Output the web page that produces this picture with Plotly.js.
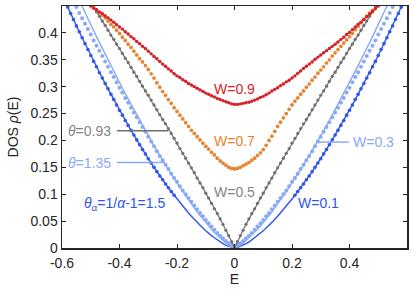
<!DOCTYPE html>
<html>
<head>
<meta charset="utf-8">
<script src="https://cdn.plot.ly/plotly-3.0.1.min.js"></script>
<style>html,body{margin:0;padding:0;background:#fff;}#chart{width:415px;height:293px;}</style>
</head>
<body>
<div id="chart"></div>
<script>
// Energy grid (shared x values)
const E = [-0.60,-0.59,-0.58,-0.57,-0.56,-0.55,-0.54,-0.53,-0.52,-0.51,
-0.50,-0.49,-0.48,-0.47,-0.46,-0.45,-0.44,-0.43,-0.42,-0.41,
-0.40,-0.39,-0.38,-0.37,-0.36,-0.35,-0.34,-0.33,-0.32,-0.31,
-0.30,-0.29,-0.28,-0.27,-0.26,-0.25,-0.24,-0.23,-0.22,-0.21,
-0.20,-0.19,-0.18,-0.17,-0.16,-0.15,-0.14,-0.13,-0.12,-0.11,
-0.10,-0.09,-0.08,-0.07,-0.06,-0.05,-0.04,-0.03,-0.02,-0.01,
0.00,
0.01,0.02,0.03,0.04,0.05,0.06,0.07,0.08,0.09,0.10,
0.11,0.12,0.13,0.14,0.15,0.16,0.17,0.18,0.19,0.20,
0.21,0.22,0.23,0.24,0.25,0.26,0.27,0.28,0.29,0.30,
0.31,0.32,0.33,0.34,0.35,0.36,0.37,0.38,0.39,0.40,
0.41,0.42,0.43,0.44,0.45,0.46,0.47,0.48,0.49,0.50,
0.51,0.52,0.53,0.54,0.55,0.56,0.57,0.58,0.59,0.60];

const N = null;

// W=0.9 (red dots)
const dosW09 = [N,N,N,N,N,N,N,N,N,N,
.450,.446,.443,.439,.436,.432,.428,.424,.420,.415,
.411,.407,.402,.398,.393,.389,.384,.380,.375,.371,
.366,.361,.356,.352,.347,.342,.338,.333,.329,.324,
.320,.317,.313,.310,.306,.303,.300,.297,.294,.291,
.288,.286,.283,.281,.278,.276,.274,.272,.270,.268,
.267,
.267,.268,.269,.270,.271,.273,.275,.277,.280,.282,
.285,.288,.292,.295,.298,.302,.305,.309,.312,.316,
.320,.325,.329,.334,.338,.342,.346,.351,.355,.359,
.363,.367,.371,.375,.379,.383,.388,.392,.397,.401,
.406,.411,.416,.420,.425,.430,.435,.440,.445,.450,
N,N,N,N,N,N,N,N,N,N];

// W=0.7 (orange dots)
const dosW07 = [N,N,N,N,N,N,N,N,N,N,
N,.448,.443,.438,.433,.428,.422,.416,.411,.405,
.399,.392,.386,.379,.373,.366,.359,.352,.346,.339,
.332,.324,.316,.307,.299,.291,.284,.276,.269,.261,
.254,.247,.240,.233,.226,.219,.213,.207,.201,.195,
.189,.184,.178,.173,.167,.162,.158,.154,.150,.148,
.147,
.148,.150,.153,.156,.159,.163,.167,.172,.177,.183,
.191,.200,.208,.217,.226,.234,.242,.250,.258,.266,
.273,.279,.286,.292,.299,.305,.312,.318,.325,.331,
.337,.344,.350,.357,.363,.369,.375,.381,.387,.393,
.399,.406,.412,.419,.425,.431,.437,.442,N,N,
N,N,N,N,N,N,N,N,N,N];

// W=0.5 (gray, theta=0.93)
const dosW05 = [N,N,N,N,N,N,N,N,N,N,
.456,.448,.439,.431,.422,.414,.405,.396,.388,.379,
.371,.362,.353,.345,.336,.327,.319,.310,.301,.292,
.284,.275,.266,.257,.248,.239,.231,.222,.213,.204,
.195,.185,.176,.167,.158,.149,.140,.130,.121,.112,
.102,.093,.083,.073,.064,.054,.044,.033,.023,.012,
0,
.012,.023,.033,.044,.054,.064,.073,.083,.093,.102,
.112,.121,.130,.140,.149,.158,.167,.176,.185,.195,
.204,.213,.222,.231,.239,.248,.257,.266,.275,.284,
.292,.301,.310,.319,.327,.336,.345,.353,.362,.371,
.379,.388,.396,.405,.414,.422,.431,.439,.448,.456,
N,N,N,N,N,N,N,N,N,N];

// W=0.3 theory line (theta=1.35)
const fitW03 = [N,N,N,N,
.484,.473,.461,.449,.438,.427,
.415,.404,.393,.382,.371,.360,.350,.339,.328,.318,
.307,.297,.287,.277,.267,.257,.247,.237,.228,.218,
.209,.199,.190,.181,.172,.163,.154,.146,.137,.129,
.121,.113,.105,.097,.089,.082,.075,.067,.061,.054,
.047,.041,.035,.029,.024,.019,.014,.009,.005,.002,
0,
.002,.005,.009,.014,.019,.024,.029,.035,.041,.047,
.054,.061,.067,.075,.082,.089,.097,.105,.113,.121,
.129,.137,.146,.154,.163,.172,.181,.190,.199,.209,
.218,.228,.237,.247,.257,.267,.277,.287,.297,.307,
.318,.328,.339,.350,.360,.371,.382,.393,.404,.415,
.427,.438,.449,.461,.473,.484,
N,N,N,N];

// W=0.3 numerical dots
const dosW03 = [N,N,N,N,
.458,.448,.437,.427,.417,.407,
.397,.386,.376,.367,.357,.347,.337,.327,.318,.308,
.298,.289,.279,.270,.261,.252,.243,.234,.225,.216,
.207,.198,.189,.180,.171,.163,.155,.147,.138,.130,
.123,.115,.107,.100,.093,.086,.079,.072,.065,.059,
.052,.046,.040,.034,.028,.023,.018,.013,.009,.006,
.003,
.006,.009,.013,.018,.023,.028,.034,.040,.046,.052,
.059,.065,.072,.079,.086,.093,.100,.107,.115,.123,
.130,.138,.147,.155,.163,.171,.180,.189,.198,.207,
.216,.225,.234,.243,.252,.261,.270,.279,.289,.298,
.308,.318,.327,.337,.347,.357,.367,.376,.386,.397,
.407,.417,.427,.437,.448,.458,
N,N,N,N];

// W=0.1 theory line (theta_alpha=1.5)
const fitW01 = [.471,.459,.448,.436,.425,.413,.402,.391,.380,.369,
.358,.347,.337,.326,.316,.306,.296,.286,.276,.266,
.256,.247,.237,.228,.219,.210,.201,.192,.183,.175,
.166,.158,.150,.142,.134,.127,.119,.112,.105,.098,
.091,.084,.077,.071,.065,.059,.053,.048,.042,.037,
.032,.027,.023,.019,.015,.011,.008,.005,.003,.001,
0,
.001,.003,.005,.008,.011,.015,.019,.023,.027,.032,
.037,.042,.048,.053,.059,.065,.071,.077,.084,.091,
.098,.105,.112,.119,.127,.134,.142,.150,.158,.166,
.175,.183,.192,.201,.210,.219,.228,.237,.247,.256,
.266,.276,.286,.296,.306,.316,.326,.337,.347,.358,
.369,.380,.391,.402,.413,.425,.436,.448,.459,.471];

// W=0.1 numerical dots (visible for |E| >= 0.21)
const dosW01 = [.471,.459,.448,.436,.425,.413,.402,.391,.380,.369,
.358,.347,.337,.326,.316,.306,.296,.286,.276,.266,
.256,.247,.237,.228,.219,.210,.201,.192,.183,.175,
.166,.158,.150,.142,.134,.127,.119,.112,.105,.098,
N,N,N,N,N,N,N,N,N,N,
N,N,N,N,N,N,N,N,N,N,
N,
N,N,N,N,N,N,N,N,N,N,
N,N,N,N,N,N,N,N,N,N,
.098,.105,.112,.119,.127,.134,.142,.150,.158,.166,
.175,.183,.192,.201,.210,.219,.228,.237,.247,.256,
.266,.276,.286,.296,.306,.316,.326,.337,.347,.358,
.369,.380,.391,.402,.413,.425,.436,.448,.459,.471];

const xTicks = [-0.6,-0.4,-0.2,0,0.2,0.4];
const xTickText = ['-0.6','-0.4','-0.2','0','0.2','0.4'];
const yTicks = [0,0.05,0.1,0.15,0.2,0.25,0.3,0.35,0.4];
const yTickText = ['0','0.05','0.1','0.15','0.2','0.25','0.3','0.35','0.4'];

const cRed = '#d6222b', cOrange = '#e8822e', cGray = '#6f6f6f', cGrayText = '#858585',
      cLight = '#88a9f6', cBlue = '#2e55ee';
const FONT = 'Liberation Sans, Arial, Helvetica, sans-serif';

const traces = [
  {x:E, y:fitW01, mode:'lines', line:{color:cBlue, width:1.4}},
  {x:E, y:dosW01, mode:'markers', marker:{color:cBlue, size:3.6}},
  {x:E, y:fitW03, mode:'lines', line:{color:cLight, width:1.4}},
  {x:E, y:dosW03, mode:'markers', marker:{color:cLight, size:4}},
  {x:E, y:dosW05, mode:'lines+markers', line:{color:cGray, width:1.2}, marker:{color:cGray, size:3.2}},
  {x:E, y:dosW07, mode:'markers', marker:{color:cOrange, size:3.7}},
  {x:E, y:dosW09, mode:'lines+markers', line:{color:cRed, width:1.1}, marker:{color:cRed, size:3.4}}
];

const ann = (x, y, text, color, xanchor) => ({x, y, xref:'x', yref:'y', text, showarrow:false,
  font:{family:FONT, size:14, color}, xanchor: xanchor || 'center', yanchor:'middle'});

const layout = {
  width:415, height:293,
  margin:{l:62, r:8, t:6, b:45},
  paper_bgcolor:'#fff', plot_bgcolor:'#fff',
  showlegend:false,
  font:{family:FONT, size:14, color:'#262626'},
  xaxis:{range:[-0.6,0.6], tickvals:xTicks, ticktext:xTickText, ticks:'inside', ticklen:4,
    tickcolor:'#262626', tickwidth:1, showline:true, linecolor:'#262626', linewidth:1.5, mirror:'ticks',
    showgrid:false, zeroline:false, ticklabelstandoff:2, tickfont:{family:FONT, size:14, color:'#262626'},
    title:{text:'E', font:{family:FONT, size:14, color:'#262626'}, standoff:4}},
  yaxis:{range:[0,0.45], tickvals:yTicks, ticktext:yTickText, ticks:'inside', ticklen:4,
    tickcolor:'#262626', tickwidth:1, showline:true, linecolor:'#262626', linewidth:1.5, mirror:'ticks',
    showgrid:false, zeroline:false, tickfont:{family:FONT, size:14, color:'#262626'},
    title:{text:'DOS <i>ρ</i>(E)', font:{family:FONT, size:14, color:'#262626'}, standoff:8}},
  annotations:[
    ann(0, 0.296, 'W=0.9', cRed),
    ann(0, 0.199, 'W=0.7', cOrange),
    ann(0, 0.104, 'W=0.5', cGrayText),
    ann(0.405, 0.197, 'W=0.3', cLight, 'left'),
    ann(0.293, 0.084, 'W=0.1', cBlue),
    ann(-0.422, 0.218, '<i>θ</i>=0.93', cGrayText, 'right'),
    ann(-0.422, 0.158, '<i>θ</i>=1.35', cLight, 'right'),
    ann(-0.531, 0.082, '<i>θ</i><sub>α</sub>=1/<i>α</i>-1=1.5', cBlue, 'left')
  ],
  shapes:[
    {type:'line', xref:'x', yref:'y', x0:-0.409, x1:-0.230, y0:0.218, y1:0.218, line:{color:cGray, width:1.5}},
    {type:'line', xref:'x', yref:'y', x0:-0.409, x1:-0.247, y0:0.159, y1:0.159, line:{color:cLight, width:1.5}},
    {type:'line', xref:'x', yref:'y', x0:0.289, x1:0.398, y0:0.197, y1:0.197, line:{color:cLight, width:1.5}}
  ]
};

Plotly.newPlot('chart', traces, layout, {displayModeBar:false, staticPlot:true});
</script>
</body>
</html>
